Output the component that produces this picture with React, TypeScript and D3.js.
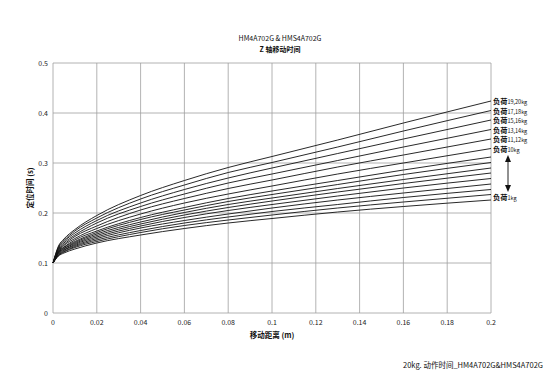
import React from "react";
import * as d3 from "d3";

const distances = [0, 0.0025, 0.005, 0.01, 0.02, 0.04, 0.06, 0.08, 0.1, 0.13, 0.16, 0.2];

const load19_20 = [0.1, 0.134, 0.148, 0.167, 0.195, 0.235, 0.265, 0.291, 0.313, 0.346, 0.38, 0.424];
const load17_18 = [0.1, 0.132, 0.145, 0.164, 0.19, 0.228, 0.256, 0.281, 0.301, 0.332, 0.364, 0.405];
const load15_16 = [0.1, 0.13, 0.143, 0.16, 0.185, 0.22, 0.247, 0.27, 0.29, 0.319, 0.348, 0.386];
const load13_14 = [0.1, 0.128, 0.14, 0.156, 0.18, 0.213, 0.238, 0.26, 0.278, 0.305, 0.332, 0.367];
const load11_12 = [0.1, 0.126, 0.137, 0.153, 0.174, 0.206, 0.229, 0.249, 0.266, 0.292, 0.316, 0.348];
const load10 = [0.1, 0.124, 0.135, 0.149, 0.169, 0.198, 0.22, 0.238, 0.254, 0.278, 0.3, 0.329];
const load9 = [0.1, 0.123, 0.132, 0.146, 0.164, 0.191, 0.211, 0.229, 0.244, 0.265, 0.286, 0.312];
const load8 = [0.1, 0.122, 0.131, 0.143, 0.161, 0.187, 0.206, 0.223, 0.237, 0.257, 0.277, 0.301];
const load7 = [0.1, 0.121, 0.129, 0.141, 0.158, 0.182, 0.201, 0.217, 0.23, 0.249, 0.267, 0.29];
const load6 = [0.1, 0.12, 0.128, 0.139, 0.155, 0.178, 0.196, 0.211, 0.224, 0.242, 0.259, 0.28];
const load5 = [0.1, 0.119, 0.126, 0.137, 0.152, 0.174, 0.191, 0.205, 0.217, 0.234, 0.25, 0.269];
const load4 = [0.1, 0.117, 0.125, 0.135, 0.149, 0.17, 0.185, 0.198, 0.21, 0.226, 0.24, 0.258];
const load3 = [0.1, 0.116, 0.123, 0.133, 0.146, 0.165, 0.18, 0.192, 0.203, 0.217, 0.231, 0.247];
const load2 = [0.1, 0.115, 0.122, 0.131, 0.143, 0.161, 0.175, 0.186, 0.196, 0.21, 0.222, 0.237];
const load1 = [0.1, 0.114, 0.12, 0.128, 0.14, 0.156, 0.169, 0.18, 0.189, 0.202, 0.213, 0.226];

const series = [load19_20, load17_18, load15_16, load13_14, load11_12, load10, load9, load8, load7, load6, load5, load4, load3, load2, load1];

const labelTexts = ["19,20kg", "17,18kg", "15,16kg", "13,14kg", "11,12kg", "10kg"];
const labelBottom = "1kg";
const labelPrefix = "负荷";

const xTicks = [0, 0.02, 0.04, 0.06, 0.08, 0.1, 0.12, 0.14, 0.16, 0.18, 0.2];
const yTicks = [0, 0.1, 0.2, 0.3, 0.4, 0.5];

const title1 = "HM4A702G & HMS4A702G";
const title2 = "Z 轴移动时间";
const xTitle = "移动距离 (m)";
const yTitle = "定位时间 (s)";
const footer = "20kg. 动作时间_HM4A702G&HMS4A702G";

const FONT = "'Noto Sans CJK SC', 'Noto Sans', sans-serif";

export default function App() {
  const W = 550, H = 380;
  const x = d3.scaleLinear().domain([0, 0.2]).range([53, 491]);
  const y = d3.scaleLinear().domain([0, 0.5]).range([313, 63]);
  const line = d3
    .line<number>()
    .x((_, i) => x(distances[i]))
    .y((d) => y(d))
    .curve(d3.curveMonotoneX);

  const fmt = (v: number) => (v === 0 ? "0" : String(+v.toFixed(2)));
  const gridColor = "#a0a0a0";

  return (
    <svg width={W} height={H} style={{ position: "absolute", left: 0, top: 0, background: "#fff" }} fontFamily={FONT}>
      <rect x={0} y={0} width={W} height={H} fill="#fff" />
      {xTicks.map((t) => (
        <line key={"gx" + t} x1={x(t)} x2={x(t)} y1={y(0)} y2={y(0.5)} stroke={gridColor} strokeWidth={0.8} />
      ))}
      {yTicks.map((t) => (
        <line key={"gy" + t} x1={x(0)} x2={x(0.2)} y1={y(t)} y2={y(t)} stroke={gridColor} strokeWidth={0.8} />
      ))}
      {xTicks.map((t) => (
        <text key={"tx" + t} x={x(t)} y={y(0) + 12} fontSize={7} textAnchor="middle" fill="#222">
          {fmt(t)}
        </text>
      ))}
      {yTicks.map((t) => (
        <text key={"ty" + t} x={x(0) - 5} y={y(t) + 2.5} fontSize={7} textAnchor="end" fill="#222">
          {fmt(t)}
        </text>
      ))}
      {series.map((s, i) => (
        <path key={"s" + i} d={line(s) || ""} fill="none" stroke="#111" strokeWidth={0.9} />
      ))}
      {labelTexts.map((t, i) => (
        <text key={"l" + i} x={x(0.2) + 2} y={y(series[i][series[i].length - 1]) + 3} fill="#111">
          <tspan fontSize={7.2} fontWeight="bold">{labelPrefix}</tspan>
          <tspan fontSize={5.5}>{t}</tspan>
        </text>
      ))}
      <text x={x(0.2) + 2} y={y(load1[load1.length - 1]) + 0} fill="#111">
        <tspan fontSize={7.2} fontWeight="bold">{labelPrefix}</tspan>
        <tspan fontSize={5.5}>{labelBottom}</tspan>
      </text>
      <line x1={508} x2={508} y1={160} y2={187} stroke="#222" strokeWidth={1} />
      <path d="M508,155 L505,162 L511,162 Z" fill="#111" />
      <path d="M508,192 L505,185 L511,185 Z" fill="#111" />
      <text x={280} y={41} fontSize={7} textAnchor="middle" fill="#111">{title1}</text>
      <text x={280} y={51.5} fontSize={7} textAnchor="middle" fill="#111" fontWeight="bold">{title2}</text>
      <text x={272} y={338} fontSize={7.5} textAnchor="middle" fill="#111" fontWeight="bold">{xTitle}</text>
      <text
        transform={`translate(33,${(y(0) + y(0.5)) / 2}) rotate(-90)`}
        fontSize={7.5}
        textAnchor="middle"
        fill="#111"
        fontWeight="bold"
      >
        {yTitle}
      </text>
      <text x={543} y={368} fontSize={7.5} textAnchor="end" fill="#111">{footer}</text>
    </svg>
  );
}
